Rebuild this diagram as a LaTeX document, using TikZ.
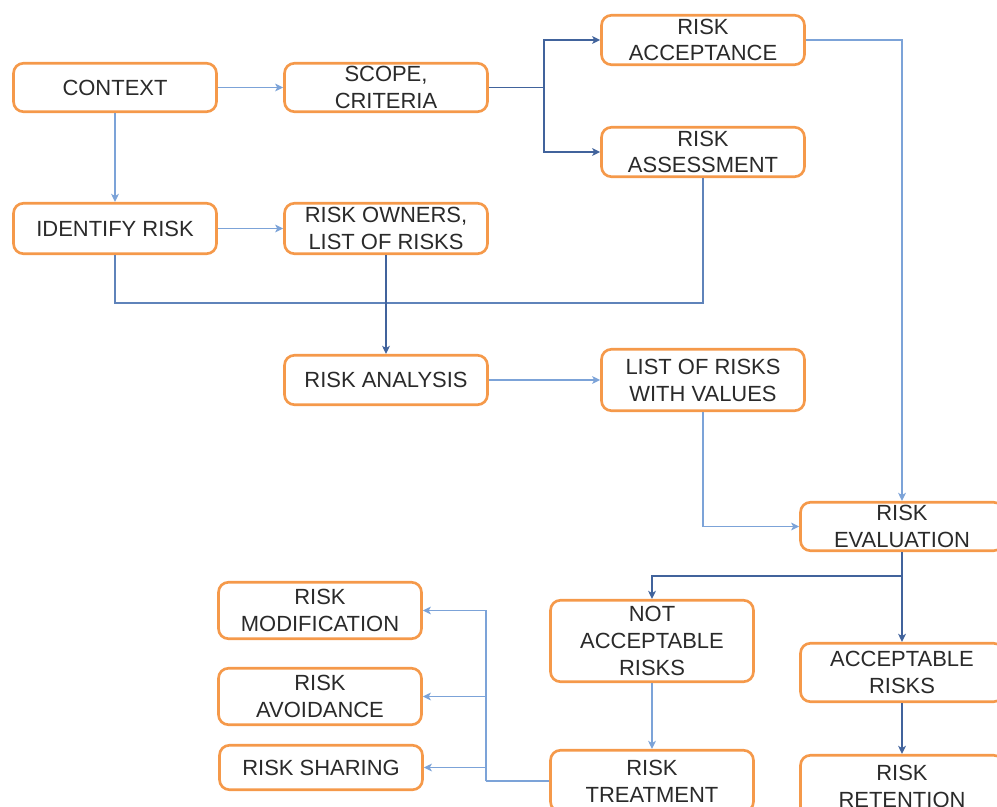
\documentclass[tikz,border=0pt]{standalone}
\usepackage{fontspec}
\setmainfont{Liberation Sans}
\usetikzlibrary{arrows.meta}

\definecolor{boxorange}{HTML}{F5994A}
\definecolor{textgray}{HTML}{2A2A2A}
\definecolor{lightblue}{HTML}{7CA3D8}
\definecolor{midblue}{HTML}{5F83BA}
\definecolor{darkblue}{HTML}{41639C}

\tikzset{
  stepbox/.style={draw=boxorange, line width=1.5pt, rounded corners=0.2cm,
    fill=white, text=textgray, align=center, inner sep=0pt,
    minimum width=4.06cm,
    font=\fontsize{12.5pt}{15.3pt}\selectfont},
  tip/.style={-{Stealth[length=4.6pt,width=4.4pt,inset=1.2pt]}},
  lightline/.style={draw=lightblue, line width=0.9pt},
  midline/.style={draw=midblue, line width=1pt},
  darkline/.style={draw=darkblue, line width=1pt},
}

\begin{document}
\begin{tikzpicture}[x=0.02cm, y=-0.02cm]
  \useasboundingbox (0,0) rectangle (997,807);
  \clip (0,0) rectangle (997,807);

  % boxes
  \node[stepbox, minimum height=0.97cm] (context)    at (115,87.5)  {CONTEXT};
  \node[stepbox, minimum height=0.97cm] (scope)      at (386,87.5)  {SCOPE,\\CRITERIA};
  \node[stepbox, minimum height=1.01cm] (identify)   at (115,228.5) {IDENTIFY RISK};
  \node[stepbox, minimum height=1.01cm] (owners)     at (386,228.5) {RISK OWNERS,\\LIST OF RISKS};
  \node[stepbox, minimum height=0.99cm] (acceptance) at (703,40)    {RISK\\ACCEPTANCE};
  \node[stepbox, minimum height=0.99cm] (assessment) at (703,152)   {RISK\\ASSESSMENT};
  \node[stepbox, minimum height=0.99cm] (analysis)   at (386,380)   {RISK ANALYSIS};
  \node[stepbox, minimum height=1.23cm] (values)     at (703,380)   {LIST OF RISKS\\WITH VALUES};
  \node[stepbox, minimum height=0.97cm] (evaluation) at (902,526.5) {RISK\\EVALUATION};
  \node[stepbox, minimum height=1.63cm] (notacc)     at (652,641)   {NOT\\ACCEPTABLE\\RISKS};
  \node[stepbox, minimum height=1.17cm] (acc)        at (902,672.5) {ACCEPTABLE\\RISKS};
  \node[stepbox, minimum height=1.23cm] (treatment)  at (652,781)   {RISK\\TREATMENT};
  \node[stepbox, minimum height=1.23cm] (retention)  at (902,786)   {RISK\\RETENTION};
  \node[stepbox, minimum height=1.13cm] (modification) at (320,610.5) {RISK\\MODIFICATION};
  \node[stepbox, minimum height=1.13cm] (avoidance)  at (320,696.5) {RISK\\AVOIDANCE};
  \node[stepbox, minimum height=0.89cm] (sharing)    at (321,767.5) {RISK SHARING};

  % junction points
  \coordinate (split)   at (544,87.5);
  \coordinate (merge)   at (386,303);
  \coordinate (evsplit) at (902,576);
  \path (treatment.west) ++(-63,0) coordinate (tsplit);

  % connectors
  \draw[lightline, tip] (context) -- (scope);
  \draw[lightline, tip] (context) -- (identify);
  \draw[lightline, tip] (identify) -- (owners);

  \draw[darkline] (scope.east) -- (split);
  \draw[darkline, tip] (split) |- (acceptance.west);
  \draw[darkline, tip] (split) |- (assessment.west);

  \draw[lightline, tip] (acceptance.east) -| (evaluation.north);

  \draw[midline] (identify.south) |- (merge);
  \draw[midline] (assessment.south) |- (merge);
  \draw[darkline, tip] (owners.south) -- (analysis.north);

  \draw[lightline, tip] (analysis) -- (values);
  \draw[lightline, tip] (values.south) |- (evaluation.west);

  \draw[darkline] (evaluation.south) -- (evsplit);
  \draw[darkline, tip] (evsplit) -| (notacc.north);
  \draw[darkline, tip] (evsplit) -- (acc.north);

  \draw[lightline, tip] (notacc) -- (treatment);
  \draw[darkline, tip] (acc) -- (retention);

  \draw[lightline] (treatment.west) -- (tsplit);
  \draw[lightline, tip] (tsplit) |- (modification.east);
  \draw[lightline, tip] (tsplit) |- (avoidance.east);
  \draw[lightline, tip] (tsplit) |- (sharing.east);
\end{tikzpicture}
\end{document}
